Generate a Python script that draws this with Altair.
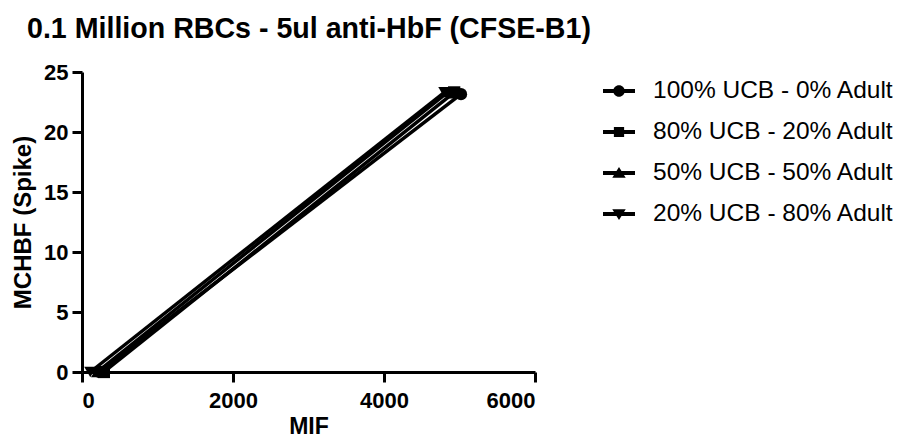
import altair as alt
import pandas as pd

series = ["100% UCB - 0% Adult", "80% UCB - 20% Adult",
          "50% UCB - 50% Adult", "20% UCB - 80% Adult"]
mif_low = [230, 290, 200, 110]
mif_high = [5020, 4930, 4850, 4800]
mchbf_low = [0, 0, 0, 0]
mchbf_high = [23.15, 23.3, 23.35, 23.3]

x_ticks = [0, 2000, 4000, 6000]
y_ticks = [0, 5, 10, 15, 20, 25]

rows = []
for i, s in enumerate(series):
    rows.append({"series": s, "key": s, "pt": 0, "MIF": mif_low[i], "MCHBF": mchbf_low[i]})
    rows.append({"series": s, "key": s, "pt": 1, "MIF": mif_high[i], "MCHBF": mchbf_high[i]})
df = pd.DataFrame(rows)

FONT = "Liberation Sans"

# legend glyphs: horizontal bar with marker
bar = "M-1,-0.125H1V0.125H-1Z"
legend_paths = [
    bar + "M0.36,0A0.36,0.36 0 1,1 -0.36,0A0.36,0.36 0 1,1 0.36,0Z",
    bar + "M-0.32,-0.32H0.32V0.32H-0.32Z",
    bar + "M0,-0.38L0.42,0.3L-0.42,0.3Z",
    bar + "M0,0.38L-0.42,-0.3L0.42,-0.3Z",
]

x_enc = alt.X("MIF:Q", scale=alt.Scale(domain=[0, 6000], nice=False),
              axis=alt.Axis(values=x_ticks, format="d", title="MIF",
                            labelPadding=8, titlePadding=4, titleFontSize=23))
y_enc = alt.Y("MCHBF:Q", scale=alt.Scale(domain=[0, 25], nice=False),
              axis=alt.Axis(values=y_ticks, format="d", title="MCHBF (Spike)",
                            labelPadding=4, titlePadding=8))

base = alt.Chart(df)

lines = base.mark_line(color="black", strokeWidth=3.5).encode(
    x=x_enc, y=y_enc, detail="series:N", order="pt:Q")

points = base.mark_point(filled=True, color="black", size=150, opacity=1).encode(
    x=x_enc, y=y_enc,
    shape=alt.Shape("series:N",
                    scale=alt.Scale(domain=series,
                                    range=["circle", "square", "triangle-up", "triangle-down"]),
                    legend=None))

legend_layer = base.mark_point(filled=True, color="black", size=1024, opacity=0).encode(
    x=x_enc, y=y_enc,
    shape=alt.Shape("key:N",
                    scale=alt.Scale(domain=series, range=legend_paths),
                    legend=alt.Legend(title=None, orient="none", legendX=521, legendY=3,
                                      symbolOpacity=1, symbolFillColor="black",
                                      symbolStrokeWidth=0, symbolSize=1024,
                                      labelFont=FONT, labelFontSize=24.5, labelColor="black",
                                      labelOffset=18, labelLimit=400, rowPadding=13,
                                      padding=0)))

chart = alt.layer(lines, points, legend_layer).resolve_scale(
    shape="independent").resolve_legend(shape="independent").properties(
    width=453, height=300,
    autosize=alt.AutoSizeParams(type="none"),
    padding={"left": 82, "top": 72, "right": 365, "bottom": 69},
    title=alt.Title("0.1 Million RBCs - 5ul anti-HbF (CFSE-B1)", anchor="start",
                    frame="group", dx=-55, offset=17, font=FONT, fontSize=28.6,
                    fontWeight="bold", color="black"),
).configure_view(stroke=None).configure_axis(
    grid=False, domainColor="black", domainWidth=3, tickColor="black",
    tickWidth=3, tickSize=10, labelFont=FONT, labelFontSize=22,
    labelFontWeight="bold", labelColor="black", titleFont=FONT,
    titleFontSize=24, titleFontWeight="bold", titleColor="black",
)

chart.save("out.html", embed_options={"renderer": "svg", "actions": False})
